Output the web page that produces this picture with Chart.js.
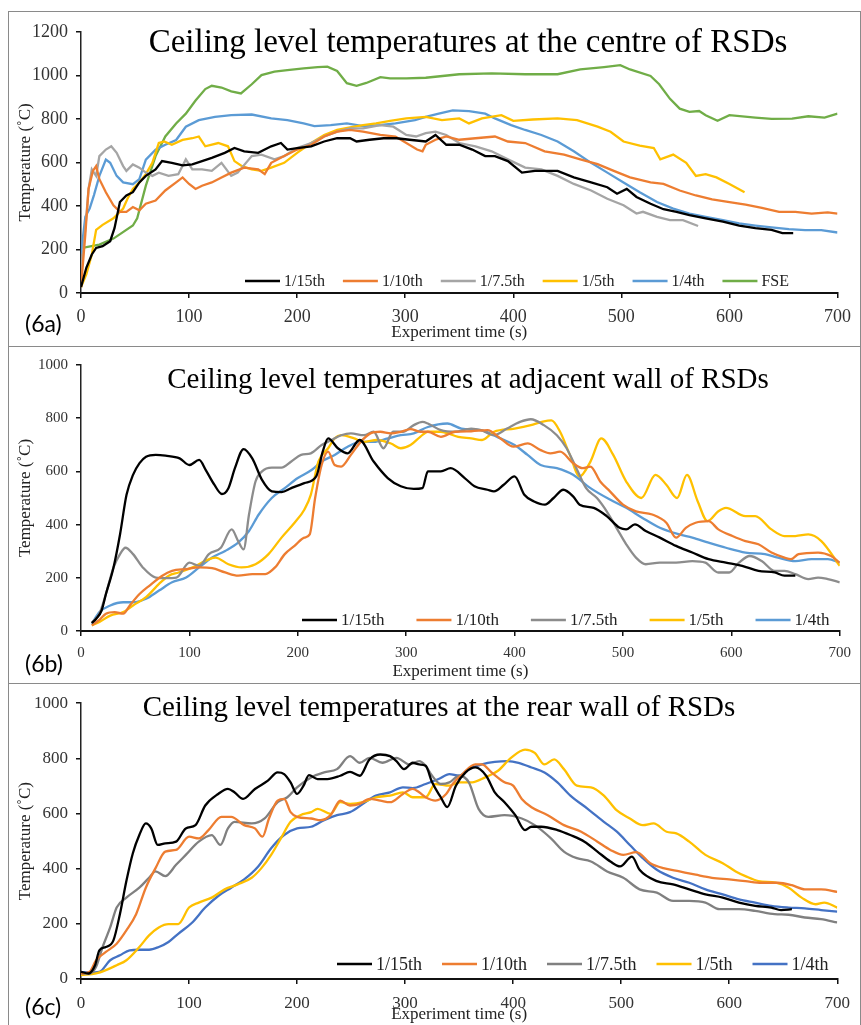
<!DOCTYPE html>
<html>
<head>
<meta charset="utf-8">
<script src="https://cdn.jsdelivr.net/npm/chart.js@4.4.1/dist/chart.umd.min.js"></script>
<style>
  body { margin: 0; background: #fff; }
  #cadre { position: absolute; left: 8px; top: 11px; width: 851px; height: 1020px; border: 1.5px solid #8a8a8a; border-bottom: none; }
  .sep { position: absolute; left: 8px; width: 853px; height: 0; border-top: 1.5px solid #8a8a8a; }
  canvas { position: absolute; left: 10px; }
</style>
</head>
<body>
<div id="cadre"></div>
<div class="sep" style="top:346px"></div>
<div class="sep" style="top:683px"></div>
<canvas id="chart6a" width="849" height="333" style="top:13px"></canvas>
<canvas id="chart6b" width="849" height="335" style="top:348px"></canvas>
<canvas id="chart6c" width="849" height="340" style="top:685px"></canvas>
<script>
// ---- (6a) centre of RSDs ----
const tA15 = [0,5,10,14,20,27,31,36,42,48,54,60,69,75,84,94,103,112,121,133,142,151,164,176,185,191,200,213,225,237,249,255,267,280,292,304,319,328,338,350,362,374,383,395,408,420,441,456,472,487,496,505,514,527,539,551,563,578,594,609,624,639,649,659];
const vA15 = [27,117,177,207,215,238,298,418,448,463,508,538,568,606,598,586,591,606,621,644,666,651,644,674,689,659,666,674,696,711,711,696,704,711,711,704,696,726,681,681,659,629,629,606,553,561,561,531,508,486,456,478,441,410,385,373,358,343,328,310,298,290,275,275];
const tA10 = [0,4,7,11,14,17,23,30,36,42,48,54,60,69,78,88,94,100,106,112,121,130,139,151,164,170,176,188,200,213,225,237,249,261,277,291,311,316,319,328,338,350,365,383,395,411,429,447,462,478,493,508,527,539,554,569,584,600,615,630,646,661,676,691,700];
const vA10 = [27,268,478,561,583,523,463,403,373,373,395,380,410,425,471,508,531,501,478,493,508,531,553,576,568,546,598,629,659,681,719,741,749,741,726,719,659,651,681,704,719,704,711,719,696,689,651,636,614,592,561,531,508,501,471,448,430,418,406,391,373,373,365,370,365];
const tA75 = [0,4,7,10,14,17,23,28,33,39,42,48,54,60,66,72,81,90,97,103,112,121,130,139,145,158,167,179,188,200,213,225,237,249,261,277,289,301,310,319,328,338,350,365,380,395,411,426,441,456,472,487,502,514,520,533,545,557,571];
const vA75 = [87,298,478,568,538,629,659,674,644,583,561,591,576,553,538,553,538,546,614,568,568,561,598,538,553,629,636,614,629,666,689,719,741,756,756,771,764,726,719,734,741,726,689,674,651,614,576,568,538,501,471,433,403,365,373,350,335,335,308];
const tA5 = [0,5,10,14,20,30,39,43,48,54,60,66,72,77,84,94,103,109,115,127,136,142,149,158,167,176,188,200,213,225,237,249,261,273,286,301,319,334,350,359,371,389,400,418,441,459,478,490,502,517,530,536,548,560,569,578,588,600,614];
const vA5 = [27,87,177,290,313,343,388,433,478,508,546,598,689,696,681,703,711,719,674,689,674,606,583,568,561,576,598,644,689,726,749,761,771,779,791,802,809,794,802,779,802,817,791,797,802,794,764,741,696,677,666,614,636,598,538,546,531,501,463];
const tA4 = [0,4,8,12,17,23,27,33,39,48,54,60,69,78,88,97,109,124,139,158,176,191,206,216,231,246,261,276,291,309,319,331,344,359,374,383,398,411,426,441,456,472,487,502,517,533,548,563,578,594,609,624,639,655,670,685,700];
const vA4 = [180,350,388,450,538,613,598,538,508,500,523,613,658,681,703,764,794,809,817,820,802,794,779,767,771,779,767,771,779,794,809,824,839,836,824,802,771,749,726,696,651,598,553,508,463,418,388,365,350,335,320,310,301,293,289,289,278];
const tAFSE = [0,17,30,48,52,60,69,78,88,97,106,115,121,130,139,148,158,167,179,191,206,219,228,237,246,255,264,277,286,301,319,350,380,411,441,462,484,499,508,527,535,545,554,563,572,578,589,600,624,639,658,673,688,700];
const vAFSE = [206,222,250,310,343,493,629,719,779,824,884,937,952,944,926,917,959,1001,1017,1024,1032,1038,1040,1020,964,952,965,992,986,986,989,1005,1009,1005,1005,1027,1038,1047,1027,997,959,892,847,832,836,817,791,817,806,800,801,812,806,824];

// ---- (6b) adjacent wall ----
const tB15 = [10,14,19,23,30,36,42,48,54,60,69,78,91,100,109,115,123,130,136,142,150,158,167,176,185,194,206,217,223,228,237,246,257,270,283,295,307,315,320,332,341,354,363,375,381,390,400,409,418,428,436,445,454,460,473,485,497,503,511,521,534,549,564,579,595,610,625,640,649,659];
const vB15 = [30,46,77,139,239,363,512,587,631,655,662,659,649,624,643,606,550,515,537,612,684,649,568,525,522,537,556,581,674,724,687,668,718,637,575,544,534,537,600,600,612,575,544,531,525,550,581,512,487,475,500,531,506,475,463,432,388,382,401,376,351,320,295,270,257,245,226,220,208,208];
const tB10 = [10,17,23,31,39,45,54,63,75,84,97,109,121,133,145,158,170,179,188,197,206,211,216,222,228,234,240,249,258,267,276,286,295,304,313,320,332,345,360,375,387,399,412,424,433,442,454,463,470,479,488,500,512,527,540,549,558,567,579,588,601,613,625,637,649,655,662,680,692,700];
const vB10 = [21,42,65,71,65,96,139,170,208,226,233,239,236,220,208,214,214,239,289,320,351,363,500,624,674,624,618,662,711,743,749,743,749,759,749,749,730,749,751,755,724,693,705,680,668,674,631,612,618,562,525,475,450,438,407,351,388,407,413,382,357,338,326,295,276,270,289,295,282,257];
const tB75 = [10,17,23,30,36,41,48,57,69,78,88,100,109,118,129,139,145,150,155,161,167,176,185,194,203,212,222,231,240,249,261,270,279,288,297,307,315,320,332,345,360,369,381,393,405,415,427,439,448,457,466,476,485,494,503,512,521,534,549,564,576,588,598,607,617,628,640,649,659,671,680,689,700];
const vB75 = [30,65,139,239,289,313,289,239,201,199,201,257,245,289,313,382,338,307,438,562,600,614,614,637,662,668,699,718,736,743,736,749,687,749,749,774,786,780,755,749,761,755,736,761,786,796,774,736,687,612,537,500,450,388,326,276,251,257,257,263,257,220,220,257,282,263,226,226,214,195,201,195,183];
const tB5 = [10,17,27,39,48,60,72,81,90,103,115,124,136,148,161,173,185,197,206,212,219,228,234,240,252,261,273,286,295,304,313,320,332,348,360,370,381,400,415,425,434,442,451,460,470,480,491,503,517,530,540,550,559,569,578,588,595,613,622,637,649,659,671,683,700];
const vB5 = [21,34,58,71,96,127,177,208,220,239,264,276,251,239,251,289,351,407,456,512,637,687,724,736,724,711,718,705,687,699,730,749,749,730,724,718,749,761,774,786,792,749,662,581,637,724,662,562,500,587,550,500,587,487,413,450,463,432,432,382,357,357,363,338,245];
const tB4 = [10,17,27,39,48,60,72,84,97,109,121,133,145,155,164,176,188,200,213,222,234,246,258,270,283,295,307,320,338,351,369,387,400,412,424,439,454,470,488,503,518,534,552,564,579,595,613,631,643,659,674,689,700];
const vB4 = [27,71,96,108,108,121,152,183,201,239,276,301,332,376,438,500,537,575,606,637,662,693,711,711,724,736,743,767,780,761,755,724,699,662,624,612,587,537,494,463,425,388,363,351,332,313,295,289,276,263,270,270,257];

// ---- (6c) rear wall ----
const tC15 = [0,7,13,17,23,30,36,42,48,54,60,65,71,78,88,97,106,115,127,136,142,150,161,173,182,188,194,200,206,211,219,228,240,249,258,267,277,286,292,299,307,313,319,325,333,339,347,356,365,375,383,392,402,411,417,426,441,453,466,478,490,499,510,517,533,548,563,578,594,609,624,639,648,658];
const vC15 = [26,20,50,104,116,140,235,355,456,522,564,546,486,492,498,546,558,629,671,689,677,653,689,719,749,743,713,671,701,739,725,725,737,751,737,796,814,808,790,761,784,778,773,713,659,623,701,749,767,737,677,641,594,540,552,552,540,522,498,462,426,408,444,396,355,343,325,307,295,277,265,259,250,253];
const tC10 = [0,8,14,23,33,42,51,60,69,78,88,100,109,118,130,139,151,161,168,174,182,188,194,200,213,222,231,240,249,258,267,277,286,298,307,313,319,328,338,344,353,365,371,380,392,400,408,417,432,447,463,478,490,502,514,527,539,554,569,584,600,615,630,645,658,670,685,700];
const vC10 = [20,26,68,98,128,176,235,331,402,462,468,516,510,540,588,588,558,546,516,582,647,653,605,588,582,576,594,647,629,635,653,647,641,671,689,677,659,647,671,707,743,778,778,749,713,701,653,623,594,558,534,498,468,450,460,420,402,390,378,367,361,355,349,349,340,325,325,316];
const tC75 = [0,8,14,20,27,33,42,54,63,69,78,88,97,109,121,129,136,142,158,170,182,191,200,213,225,237,249,258,267,279,292,304,313,319,325,333,341,350,359,368,377,392,408,420,435,447,459,472,487,502,517,533,548,563,578,591,609,624,642,655,670,685,700];
const vC75 = [20,20,44,116,187,259,295,331,367,390,373,414,450,498,522,486,546,570,564,582,641,659,695,731,749,761,808,784,802,784,802,778,790,773,737,707,713,737,713,617,588,594,582,558,510,462,438,426,390,367,325,313,283,283,277,253,253,247,235,233,223,217,205];
const tC5 = [0,14,23,33,42,54,63,72,81,90,100,109,121,133,145,158,167,176,185,194,203,213,219,231,240,249,261,273,286,298,307,319,328,341,350,362,374,386,398,411,420,429,438,447,459,472,484,496,508,520,530,542,551,563,578,594,606,615,627,643,655,667,680,688,700];
const vC5 = [14,20,32,50,68,116,158,187,199,199,259,277,295,325,343,367,402,450,510,570,594,605,617,599,641,635,641,659,665,677,659,659,707,701,713,713,731,755,802,832,820,778,796,761,701,695,665,611,582,558,564,534,528,498,450,420,390,373,355,349,331,295,271,277,259];
const tC4 = [0,8,17,27,36,45,54,63,72,81,90,103,115,127,139,151,164,176,188,200,213,225,237,249,261,273,286,298,307,319,331,341,350,359,371,383,395,405,417,429,441,453,469,484,496,508,520,533,548,563,578,594,609,624,639,655,670,685,700];
const vC4 = [26,23,26,68,86,104,106,106,116,134,164,205,259,301,331,361,408,474,522,546,552,576,594,605,635,665,677,695,692,707,725,743,737,761,778,787,790,784,767,749,713,665,617,570,534,486,438,396,367,349,325,307,289,277,265,259,256,250,244];

const echelles = ["1/15th", "1/10th", "1/7.5th", "1/5th", "1/4th", "FSE"];
const xTicks = [0, 100, 200, 300, 400, 500, 600, 700];

const serif = '"Liberation Serif", "Times New Roman", serif';

const pts = (t, v) => t.map((x, i) => ({ x, y: v[i] }));

function serie(label, t, v, couleur, lisse) {
    return {
        label,
        data: pts(t, v),
        borderColor: couleur,
        backgroundColor: couleur,
        borderWidth: 2.3,
        pointRadius: 0,
        fill: false,
        tension: 0,
        cubicInterpolationMode: lisse ? "monotone" : "default"
    };
}

// titre dans la zone du graphe + étiquette (6x)
const panelText = {
    id: "panelText",
    afterDraw(chart, args, o) {
        const ctx = chart.ctx;
        ctx.save();
        ctx.fillStyle = "#000";
        ctx.textAlign = "center";
        ctx.textBaseline = "alphabetic";
        ctx.font = `${o.titleSize}px ${serif}`;
        ctx.fillText(o.title, o.titleX, o.titleY);
        ctx.textAlign = "left";
        ctx.textBaseline = "middle";
        ctx.font = '23px Lato, "Open Sans", sans-serif';
        ctx.fillText(o.tag, 15, o.tagY);
        ctx.restore();
    }
};

// légende dans le bas du graphe
const legendeInterne = {
    id: "legendeInterne",
    afterDatasetsDraw(chart, args, o) {
        const ctx = chart.ctx;
        ctx.save();
        ctx.font = `${o.size}px ${serif}`;
        ctx.textBaseline = "middle";
        ctx.textAlign = "left";
        let x = o.x;
        chart.data.datasets.forEach(ds => {
            ctx.strokeStyle = ds.borderColor;
            ctx.lineWidth = 2.5;
            ctx.beginPath();
            ctx.moveTo(x, o.y);
            ctx.lineTo(x + 35, o.y);
            ctx.stroke();
            x += 39;
            ctx.fillStyle = "#222";
            ctx.fillText(ds.label, x, o.y + 1);
            x += ctx.measureText(ds.label).width + o.gap;
        });
        ctx.restore();
    }
};

function dessiner(id, c) {
    const canvas = document.getElementById(id);
    const axe = { color: "#111", lineWidth: 1.5, drawOnChartArea: false, drawTicks: true, tickLength: 5 };
    return new Chart(canvas, {
        type: "line",
        data: { datasets: c.datasets },
        plugins: [panelText, legendeInterne],
        options: {
            responsive: false,
            animation: false,
            devicePixelRatio: 1,
            layout: { padding: { left: 0, top: c.padTop, right: 13, bottom: 0 } },
            plugins: {
                legend: { display: false },
                tooltip: { enabled: false },
                panelText: c.text,
                legendeInterne: c.legend
            },
            scales: {
                x: {
                    type: "linear",
                    min: 0,
                    max: 700,
                    afterBuildTicks: s => { s.ticks = xTicks.map(value => ({ value })); },
                    afterFit: s => { s.height = c.xHeight; },
                    ticks: { font: { family: serif, size: c.xFont }, color: "#333", padding: c.xPad, maxRotation: 0, callback: v => String(v) },
                    grid: axe,
                    border: { color: "#111", width: 2 },
                    title: {
                        display: true,
                        text: "Experiment time (s)",
                        font: { family: serif, size: 17 },
                        color: "#222",
                        padding: { top: 0, bottom: c.xTitlePad }
                    }
                },
                y: {
                    min: 0,
                    max: c.yMax,
                    afterFit: s => { s.width = 71; },
                    ticks: { stepSize: 200, font: { family: serif, size: c.yFont }, color: "#333", padding: 8, callback: v => String(v) },
                    grid: axe,
                    border: { color: "#222", width: 1.5 },
                    title: {
                        display: true,
                        text: "Temperature (˚C)",
                        font: { family: serif, size: 17 },
                        color: "#222",
                        padding: { top: 5, bottom: 0 }
                    }
                }
            }
        }
    });
}

dessiner("chart6a", {
    datasets: [
        serie(echelles[0], tA15, vA15, "#000000", false),
        serie(echelles[1], tA10, vA10, "#ED7D31", false),
        serie(echelles[2], tA75, vA75, "#A5A5A5", false),
        serie(echelles[3], tA5, vA5, "#FFC000", false),
        serie(echelles[4], tA4, vA4, "#5B9BD5", false),
        serie(echelles[5], tAFSE, vAFSE, "#70AD47", false)
    ],
    padTop: 14, xHeight: 53, yMax: 1200, xFont: 18, yFont: 18, xPad: 8, xTitlePad: 3,
    text: { title: "Ceiling level temperatures at the centre of RSDs", titleSize: 33, titleX: 458, titleY: 39, tag: "(6a)", tagY: 312 },
    legend: { x: 235, y: 268, size: 16, gap: 18 }
});

dessiner("chart6b", {
    datasets: [
        serie(echelles[0], tB15, vB15, "#000000", true),
        serie(echelles[1], tB10, vB10, "#ED7D31", true),
        serie(echelles[2], tB75, vB75, "#8C8C8C", true),
        serie(echelles[3], tB5, vB5, "#FFC000", true),
        serie(echelles[4], tB4, vB4, "#5B9BD5", true)
    ],
    padTop: 15, xHeight: 52, yMax: 1000, xFont: 15, yFont: 15, xPad: 8, xTitlePad: 1,
    text: { title: "Ceiling level temperatures at adjacent wall of RSDs", titleSize: 29, titleX: 458, titleY: 40, tag: "(6b)", tagY: 317 },
    legend: { x: 292, y: 272, size: 17, gap: 32 }
});

dessiner("chart6c", {
    datasets: [
        serie(echelles[0], tC15, vC15, "#000000", true),
        serie(echelles[1], tC10, vC10, "#ED7D31", true),
        serie(echelles[2], tC75, vC75, "#808080", true),
        serie(echelles[3], tC5, vC5, "#FFC000", true),
        serie(echelles[4], tC4, vC4, "#4472C4", true)
    ],
    padTop: 14, xHeight: 46, yMax: 1000, xFont: 17, yFont: 17, xPad: 9, xTitlePad: 0,
    text: { title: "Ceiling level temperatures at the rear wall of RSDs", titleSize: 29, titleX: 429, titleY: 31, tag: "(6c)", tagY: 323 },
    legend: { x: 327, y: 279, size: 18, gap: 20 }
});
</script>
</body>
</html>
